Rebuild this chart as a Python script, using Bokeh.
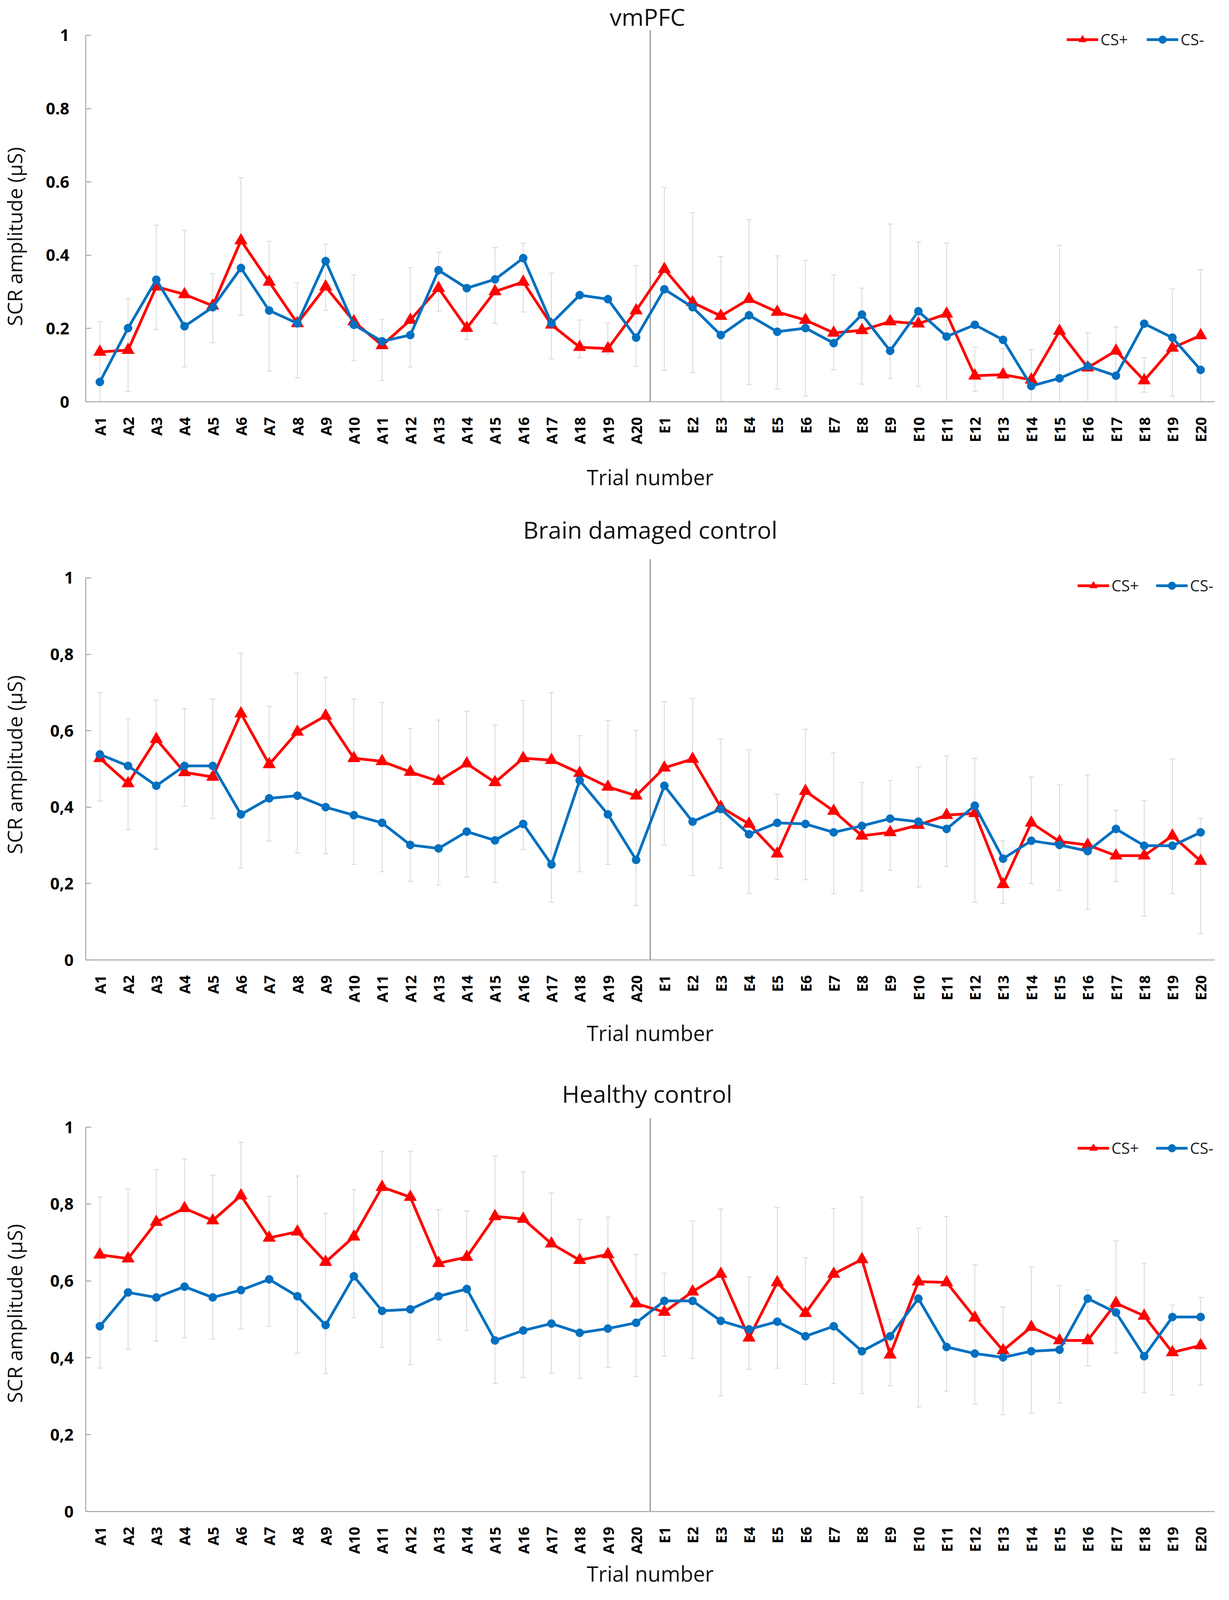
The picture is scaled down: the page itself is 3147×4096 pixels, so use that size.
import math
from bokeh.plotting import figure
from bokeh.models import (FactorRange, Range1d, FixedTicker, Whisker, TeeHead,
                          ColumnDataSource, Legend, LegendItem, Label)
from bokeh.layouts import column, row
from bokeh.embed import file_html
from bokeh.resources import INLINE

# ---------------- data ----------------
trials = ["A1", "A2", "A3", "A4", "A5", "A6", "A7", "A8", "A9", "A10",
          "A11", "A12", "A13", "A14", "A15", "A16", "A17", "A18", "A19", "A20",
          "E1", "E2", "E3", "E4", "E5", "E6", "E7", "E8", "E9", "E10",
          "E11", "E12", "E13", "E14", "E15", "E16", "E17", "E18", "E19", "E20"]
y_ticks = [0, 0.2, 0.4, 0.6, 0.8, 1]
y_labels_dot = ["0", "0.2", "0.4", "0.6", "0.8", "1"]
y_labels_comma = ["0", "0,2", "0,4", "0,6", "0,8", "1"]

vm_cs_plus = [0.136, 0.141, 0.314, 0.293, 0.262, 0.440, 0.327, 0.214, 0.314, 0.219,
              0.154, 0.223, 0.310, 0.201, 0.301, 0.327, 0.210, 0.149, 0.145, 0.249,
              0.362, 0.271, 0.234, 0.280, 0.245, 0.223, 0.188, 0.195, 0.219, 0.213,
              0.240, 0.071, 0.074, 0.060, 0.193, 0.093, 0.139, 0.058, 0.147, 0.181]
vm_cs_minus = [0.054, 0.201, 0.333, 0.206, 0.258, 0.365, 0.249, 0.214, 0.384, 0.210,
               0.165, 0.182, 0.359, 0.310, 0.334, 0.392, 0.214, 0.291, 0.280, 0.175,
               0.307, 0.258, 0.182, 0.236, 0.191, 0.201, 0.160, 0.238, 0.139, 0.247,
               0.178, 0.210, 0.169, 0.043, 0.064, 0.097, 0.071, 0.213, 0.175, 0.087]
vm_err_hi = [0.219, 0.281, 0.482, 0.468, 0.349, 0.612, 0.438, 0.325, 0.430, 0.346,
             0.225, 0.366, 0.408, 0.320, 0.421, 0.433, 0.351, 0.223, 0.214, 0.372,
             0.585, 0.516, 0.397, 0.497, 0.398, 0.386, 0.346, 0.310, 0.485, 0.436,
             0.433, 0.149, 0.145, 0.142, 0.427, 0.188, 0.204, 0.120, 0.308, 0.360]
vm_err_lo = [0.000, 0.028, 0.197, 0.095, 0.161, 0.236, 0.084, 0.065, 0.249, 0.112,
             0.058, 0.095, 0.247, 0.170, 0.214, 0.245, 0.117, 0.120, 0.130, 0.097,
             0.086, 0.080, 0.000, 0.047, 0.035, 0.015, 0.087, 0.048, 0.063, 0.041,
             0.000, 0.028, 0.000, 0.000, 0.000, 0.000, 0.000, 0.026, 0.015, 0.000]

bd_cs_plus = [0.528, 0.462, 0.578, 0.491, 0.479, 0.645, 0.512, 0.597, 0.639, 0.528,
              0.520, 0.492, 0.468, 0.514, 0.465, 0.528, 0.523, 0.489, 0.453, 0.430,
              0.503, 0.526, 0.400, 0.356, 0.278, 0.442, 0.390, 0.325, 0.334, 0.353,
              0.379, 0.384, 0.198, 0.359, 0.310, 0.301, 0.273, 0.273, 0.325, 0.259]
bd_cs_minus = [0.538, 0.508, 0.456, 0.508, 0.508, 0.381, 0.423, 0.430, 0.400, 0.379,
               0.359, 0.301, 0.292, 0.336, 0.313, 0.356, 0.250, 0.470, 0.381, 0.262,
               0.456, 0.362, 0.395, 0.329, 0.359, 0.356, 0.334, 0.351, 0.370, 0.362,
               0.343, 0.404, 0.265, 0.312, 0.301, 0.285, 0.343, 0.299, 0.299, 0.334]
bd_err_hi = [0.700, 0.632, 0.680, 0.658, 0.683, 0.803, 0.664, 0.751, 0.740, 0.683,
             0.674, 0.606, 0.628, 0.651, 0.615, 0.679, 0.700, 0.587, 0.627, 0.601,
             0.676, 0.684, 0.578, 0.550, 0.434, 0.604, 0.542, 0.465, 0.470, 0.505,
             0.534, 0.528, 0.312, 0.479, 0.458, 0.484, 0.392, 0.417, 0.526, 0.371]
bd_err_lo = [0.416, 0.341, 0.290, 0.402, 0.371, 0.240, 0.311, 0.280, 0.278, 0.250,
             0.231, 0.206, 0.196, 0.217, 0.203, 0.289, 0.151, 0.231, 0.250, 0.142,
             0.301, 0.221, 0.240, 0.174, 0.210, 0.210, 0.173, 0.181, 0.235, 0.191,
             0.245, 0.151, 0.148, 0.200, 0.182, 0.132, 0.205, 0.114, 0.174, 0.069]

hc_cs_plus = [0.668, 0.658, 0.753, 0.789, 0.757, 0.822, 0.712, 0.728, 0.649, 0.715,
              0.844, 0.818, 0.646, 0.662, 0.768, 0.761, 0.697, 0.654, 0.669, 0.541,
              0.519, 0.572, 0.618, 0.452, 0.596, 0.516, 0.618, 0.656, 0.408, 0.598,
              0.596, 0.504, 0.419, 0.480, 0.445, 0.445, 0.542, 0.509, 0.414, 0.432]
hc_cs_minus = [0.482, 0.570, 0.557, 0.585, 0.557, 0.576, 0.604, 0.560, 0.485, 0.612,
               0.522, 0.526, 0.560, 0.579, 0.445, 0.471, 0.489, 0.465, 0.476, 0.491,
               0.548, 0.548, 0.496, 0.474, 0.494, 0.456, 0.482, 0.417, 0.456, 0.554,
               0.428, 0.411, 0.401, 0.417, 0.421, 0.554, 0.518, 0.404, 0.506, 0.506]
hc_err_hi = [0.818, 0.839, 0.889, 0.917, 0.875, 0.961, 0.820, 0.873, 0.776, 0.838,
             0.937, 0.937, 0.785, 0.782, 0.925, 0.884, 0.829, 0.760, 0.766, 0.669,
             0.620, 0.756, 0.787, 0.610, 0.791, 0.660, 0.788, 0.818, 0.500, 0.737,
             0.768, 0.642, 0.532, 0.636, 0.588, 0.577, 0.704, 0.646, 0.537, 0.557]
hc_err_lo = [0.373, 0.423, 0.443, 0.452, 0.449, 0.475, 0.482, 0.412, 0.359, 0.504,
             0.427, 0.382, 0.447, 0.471, 0.333, 0.349, 0.360, 0.346, 0.375, 0.351,
             0.404, 0.399, 0.301, 0.370, 0.373, 0.331, 0.333, 0.307, 0.327, 0.272,
             0.313, 0.279, 0.252, 0.256, 0.282, 0.379, 0.412, 0.309, 0.303, 0.329]

titles = ["vmPFC", "Brain damaged control", "Healthy control"]
y_title = "SCR amplitude (µS)"
x_title = "Trial number"
divider_after = 20  # boundary between A20 and E1 (in factor units)

# ---------------- style ----------------
RED = "#FF0000"
BLUE = "#0070C0"
AXIS = "#A6A6A6"
DIV = "#7F7F7F"
ERR = "#D6D6D6"
FONT = "Open Sans"
W = 3131
WY = 90                 # width of the strip that holds the y-axis title
WP = W - WY
L, R = 129, 21
FW = WP - L - R


def ylabel_fig(h, b, cx, cy):
    f = figure(width=WY, height=h, x_range=Range1d(0, 1), y_range=Range1d(0, 1),
               output_backend="svg", toolbar_location=None,
               min_border_left=0, min_border_right=0, min_border_top=0,
               min_border_bottom=b, x_axis_type=None, y_axis_type=None)
    f.outline_line_color = None
    f.add_layout(Label(x=cx, y=cy, x_units="screen", y_units="screen",
                       text=y_title, angle=math.pi / 2, text_font=FONT,
                       text_font_size="52px", text_align="center",
                       text_baseline="middle", text_color="#111111"))
    return f


def make_panel(title, cs_plus, cs_minus, err_hi, err_lo, tick_labels, cfg):
    p = figure(x_range=FactorRange(factors=trials), y_range=Range1d(0, cfg["yend"]),
               width=WP, height=cfg["h"], output_backend="svg", toolbar_location=None,
               min_border_left=L, min_border_right=R,
               min_border_top=0, min_border_bottom=cfg["b"])
    p.outline_line_color = None
    p.xgrid.grid_line_color = None
    p.ygrid.grid_line_color = None

    # x axis
    xa = p.xaxis[0]
    xa.axis_line_color = AXIS
    xa.axis_line_width = 2.5
    xa.major_tick_line_color = None
    xa.major_tick_out = 0
    xa.major_tick_in = 0
    xa.minor_tick_line_color = None
    xa.minor_tick_out = 0
    xa.major_label_orientation = math.pi / 2
    xa.major_label_standoff = 39
    xa.major_label_text_font = FONT
    xa.major_label_text_font_style = "bold"
    xa.major_label_text_font_size = "38px"
    xa.major_label_text_color = "#000000"
    xa.axis_label = x_title
    xa.axis_label_text_font = FONT
    xa.axis_label_text_font_style = "normal"
    xa.axis_label_text_font_size = "54px"
    xa.axis_label_text_color = "#111111"
    xa.axis_label_standoff = cfg["xls"]

    # y axis
    ya = p.yaxis[0]
    ya.bounds = (0, 1)
    ya.ticker = FixedTicker(ticks=y_ticks)
    ya.major_label_overrides = {t: s for t, s in zip(y_ticks, tick_labels)}
    ya.axis_line_color = AXIS
    ya.axis_line_width = 2.5
    ya.major_tick_line_color = AXIS
    ya.major_tick_line_width = 2.5
    ya.major_tick_in = 14
    ya.major_tick_out = 0
    ya.minor_tick_line_color = None
    ya.major_label_standoff = cfg["yts"]
    ya.major_label_text_font = FONT
    ya.major_label_text_font_style = "bold"
    ya.major_label_text_font_size = "42px"
    ya.major_label_text_color = "#000000"

    # error bars
    src = ColumnDataSource(dict(x=trials, hi=err_hi, lo=err_lo))
    wk = Whisker(base="x", upper="hi", lower="lo", source=src,
                 line_color=ERR, line_width=2,
                 upper_head=TeeHead(size=14, line_color=ERR, line_width=2),
                 lower_head=TeeHead(size=14, line_color=ERR, line_width=2))
    p.add_layout(wk)

    # divider between acquisition and extinction
    p.segment(x0=[divider_after], y0=[0], x1=[divider_after], y1=[cfg["divtop"]],
              line_color=DIV, line_width=2.5)

    # series
    rl = p.line(trials, cs_plus, line_color=RED, line_width=7)
    rm = p.scatter(trials, cs_plus, marker="triangle", size=32,
                   fill_color=RED, line_color=RED)
    bl = p.line(trials, cs_minus, line_color=BLUE, line_width=7)
    bm = p.scatter(trials, cs_minus, marker="circle", size=21,
                   fill_color=BLUE, line_color=BLUE)

    legend = Legend(items=[LegendItem(label="CS+", renderers=[rl, rm]),
                           LegendItem(label="CS-", renderers=[bl, bm])],
                    location=cfg["leg"], orientation="horizontal",
                    label_text_font=FONT, label_text_font_size="40px",
                    label_text_color="#222222",
                    glyph_width=81, glyph_height=50, label_height=50,
                    label_standoff=6, spacing=cfg["sp"], padding=0, margin=0,
                    border_line_alpha=0, background_fill_alpha=0)
    p.add_layout(legend)

    # panel title
    p.add_layout(Label(x=FW / 2 + cfg["tdx"], y=cfg["ty"], x_units="screen",
                       y_units="screen", text=title, text_font=FONT,
                       text_font_size="61px", text_align="center",
                       text_baseline="middle", text_color="#111111"))
    return p


cfg1 = dict(h=1282, b=254, yend=1.0959, divtop=1.0139, ty=986, tdx=-7,
            xls=44, yts=42, leg=(2512, 900), sp=48, ylab=423)
cfg2 = dict(h=1450, b=275, yend=1.2014, divtop=1.0491, ty=1102, tdx=0,
            xls=38, yts=31, leg=(2540, 931), sp=44, ylab=500)
cfg3 = dict(h=1348, b=211, yend=1.1555, divtop=1.0234, ty=1070, tdx=-8,
            xls=10, yts=31, leg=(2540, 903), sp=44, ylab=507)

rows = []
for ttl, cp, cm, eh, el, tl, cfg in [
        (titles[0], vm_cs_plus, vm_cs_minus, vm_err_hi, vm_err_lo, y_labels_dot, cfg1),
        (titles[1], bd_cs_plus, bd_cs_minus, bd_err_hi, bd_err_lo, y_labels_comma, cfg2),
        (titles[2], hc_cs_plus, hc_cs_minus, hc_err_hi, hc_err_lo, y_labels_comma, cfg3)]:
    yl = ylabel_fig(cfg["h"], cfg["b"], 36, cfg["ylab"])
    pn = make_panel(ttl, cp, cm, eh, el, tl, cfg)
    rows.append(row(yl, pn, spacing=0))

layout = column(*rows, spacing=0)
open("out.html", "w").write(file_html(layout, INLINE))
